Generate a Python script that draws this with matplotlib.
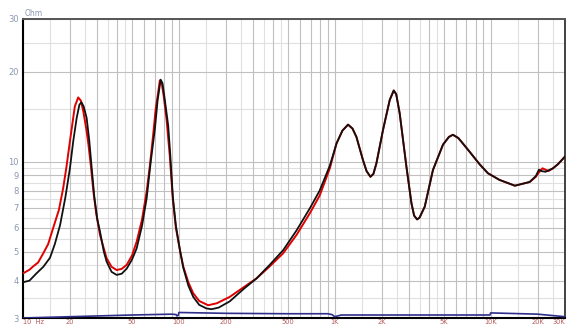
import matplotlib.pyplot as plt
import numpy as np

# impedance curves (Hz, Ohm)
red_freq = [10, 11, 11.6, 12.5, 13.5, 14.5, 15.6, 17, 18.1, 19, 20, 21.5, 22.6, 23.5,
            24.4, 25.5, 26.3, 27.3, 28.3, 29.5, 31.2, 34.4, 37, 39.9, 43, 46.3, 50,
            53.6, 58, 62.1, 65, 68.4, 71, 73.7, 75.5, 77.5, 80, 83.4, 87.5, 91.5,
            95.7, 101.6, 106.7, 115, 123.6, 135, 154, 175, 212, 260, 315, 380, 467,
            570, 692, 800, 930, 1026, 1120, 1217, 1300, 1377, 1519, 1600, 1694, 1770,
            1851, 2042, 2254, 2390, 2480, 2610, 2884, 3105, 3230, 3375, 3500, 3778,
            4266, 4947, 5400, 5728, 6200, 6639, 7324, 8500, 9600, 11400, 14300,
            17800, 19500, 20400, 21500, 22500, 23500, 25100, 27000, 30000]
red_ohm = [4.23, 4.35, 4.46, 4.6, 4.94, 5.3, 5.99, 6.9, 8.15, 9.6, 11.7, 15.3, 16.4, 16.0,
           14.7, 12.8, 11.4, 9.6, 7.93, 6.7, 5.68, 4.75, 4.45, 4.34, 4.38, 4.52, 4.85,
           5.4, 6.4, 7.93, 9.6, 12.3, 15.0, 17.1, 18.7, 18.4, 16.5, 13.8, 10.4, 7.45,
           6.0, 5.06, 4.46, 3.95, 3.63, 3.42, 3.31, 3.36, 3.53, 3.8, 4.07, 4.45, 4.94,
           5.7, 6.72, 7.7, 9.5, 11.5, 12.7, 13.3, 12.9, 12.1, 10.1, 9.3, 8.9, 9.1,
           9.88, 12.8, 16.1, 17.3, 16.8, 14.5, 9.6, 7.26, 6.6, 6.41, 6.5, 7.07,
           9.38, 11.4, 12.1, 12.3, 12.0, 11.5, 10.8, 9.8, 9.15, 8.69, 8.31,
           8.55, 8.9, 9.2, 9.5, 9.4, 9.3, 9.5, 9.8, 10.4]

black_freq = [10, 11, 12.2, 13.5, 14.9, 16, 17.3, 18.7, 20, 21, 22.1, 23.0, 23.7, 24.5,
              25.6, 26.6, 27.6, 28.7, 30, 31.2, 33, 34.4, 37, 39.9, 43, 46.3, 50, 53.6,
              58, 62.1, 66, 70.2, 73, 76.4, 78.5, 81, 85.4, 88, 91.5, 95.7, 101.6,
              106.7, 115, 123.6, 135, 150, 162, 180, 212, 260, 315, 380, 467, 570, 692,
              800, 930, 1026, 1120, 1217, 1300, 1377, 1519, 1600, 1694, 1770, 1851,
              2042, 2254, 2390, 2480, 2610, 2884, 3105, 3230, 3375, 3500, 3778, 4266,
              4947, 5400, 5728, 6200, 6639, 7324, 8500, 9600, 11400, 14300, 17800,
              19500, 20400, 21200, 22500, 25100, 27000, 30000]
black_ohm = [3.95, 4.0, 4.23, 4.45, 4.77, 5.3, 6.14, 7.6, 9.5, 11.7, 14.0, 15.5, 15.8, 15.3,
             14.0, 11.8, 9.5, 7.6, 6.4, 5.83, 5.0, 4.63, 4.28, 4.18, 4.22, 4.39, 4.7, 5.13,
             6.1, 7.53, 10.0, 12.9, 16.0, 18.8, 18.3, 16.3, 13.2, 10.6, 7.6, 6.1, 5.05,
             4.42, 3.85, 3.53, 3.32, 3.23, 3.21, 3.25, 3.41, 3.75, 4.07, 4.5, 5.06, 5.9, 6.98,
             8.0, 9.7, 11.5, 12.7, 13.3, 12.9, 12.1, 10.1, 9.3, 8.9, 9.1, 9.88,
             12.8, 16.1, 17.3, 16.8, 14.5, 9.6, 7.26, 6.6, 6.41, 6.5, 7.07, 9.38,
             11.4, 12.1, 12.3, 12.0, 11.5, 10.8, 9.8, 9.15, 8.69, 8.31, 8.55,
             8.95, 9.4, 9.3, 9.25, 9.5, 9.8, 10.4]

blue_freq = [10, 20, 50, 90, 96, 97, 99, 100, 200, 500, 900, 960, 1000, 1100, 2000,
             9900, 10000, 20000, 30000]
blue_ohm = [3.0, 3.03, 3.07, 3.09, 3.08, 3.05, 3.06, 3.13, 3.11, 3.10, 3.10, 3.08, 3.03,
            3.07, 3.07, 3.07, 3.12, 3.09, 3.03]

x_ticks = [10, 20, 50, 100, 200, 500, 1000, 2000, 5000, 10000, 20000, 30000]
x_labels = ["10  Hz", "20", "50", "100", "200", "500", "1K", "2K", "5K", "10K", "20K", "30K"]
y_ticks = [3, 4, 5, 6, 7, 8, 9, 10, 20, 30]

fig = plt.figure(figsize=(5.7, 3.25), dpi=100)
ax = fig.add_axes([23 / 570, 1 - 318 / 325, 542 / 570, 299 / 325])
ax.set_xscale("log")
ax.set_yscale("log")
ax.set_xlim(10, 30000)
ax.set_ylim(3, 30)

# grid: integer multiples medium grey, half steps light grey
for dec in [10, 100, 1000, 10000]:
    for m in [1, 2, 3, 4, 5, 6, 7, 8, 9]:
        if dec * m <= 30000:
            ax.axvline(dec * m, color="#c0c0c0", lw=0.8, zorder=1)
    for m in [1.5, 2.5, 3.5, 4.5]:
        if dec * m <= 30000:
            ax.axvline(dec * m, color="#e0e0e0", lw=0.8, zorder=0)
for v in [3, 4, 5, 6, 7, 8, 9, 10, 20, 30]:
    ax.axhline(v, color="#c0c0c0", lw=0.8, zorder=1)
for v in [3.5, 4.5, 5.5, 6.5, 7.5, 8.5, 9.5, 15, 25]:
    ax.axhline(v, color="#e0e0e0", lw=0.8, zorder=0)

ax.plot(blue_freq, blue_ohm, color="#2e2e8a", lw=1.2, zorder=3)
ax.plot(red_freq, red_ohm, color="#e00000", lw=1.4, zorder=4)
ax.plot(black_freq, black_ohm, color="#111111", lw=1.3, zorder=5)

ax.set_xticks(x_ticks)
ax.set_xticklabels(x_labels)
ax.xaxis.set_minor_locator(plt.NullLocator())
ax.set_yticks(y_ticks)
ax.set_yticklabels([str(v) for v in y_ticks])
ax.yaxis.set_minor_locator(plt.NullLocator())
ax.tick_params(axis="x", length=0, pad=0.8, labelsize=4.8, labelcolor="#b85a5a")
ax.tick_params(axis="y", length=0, pad=3, labelsize=6, labelcolor="#8a98b0")
labels = ax.get_xticklabels()
labels[0].set_ha("left")
labels[-1].set_ha("right")

for side in ["left", "bottom"]:
    ax.spines[side].set_color("#000000")
    ax.spines[side].set_linewidth(1.5)
ax.spines["top"].set_color("#555555")
ax.spines["top"].set_linewidth(1.4)
ax.spines["right"].set_color("#222222")
ax.spines["right"].set_linewidth(1.2)

fig.text(25 / 570, 1 - 13 / 325, "Ohm", fontsize=5.5, color="#8a98b0", va="center")

fig.savefig("out.png", dpi=100)
